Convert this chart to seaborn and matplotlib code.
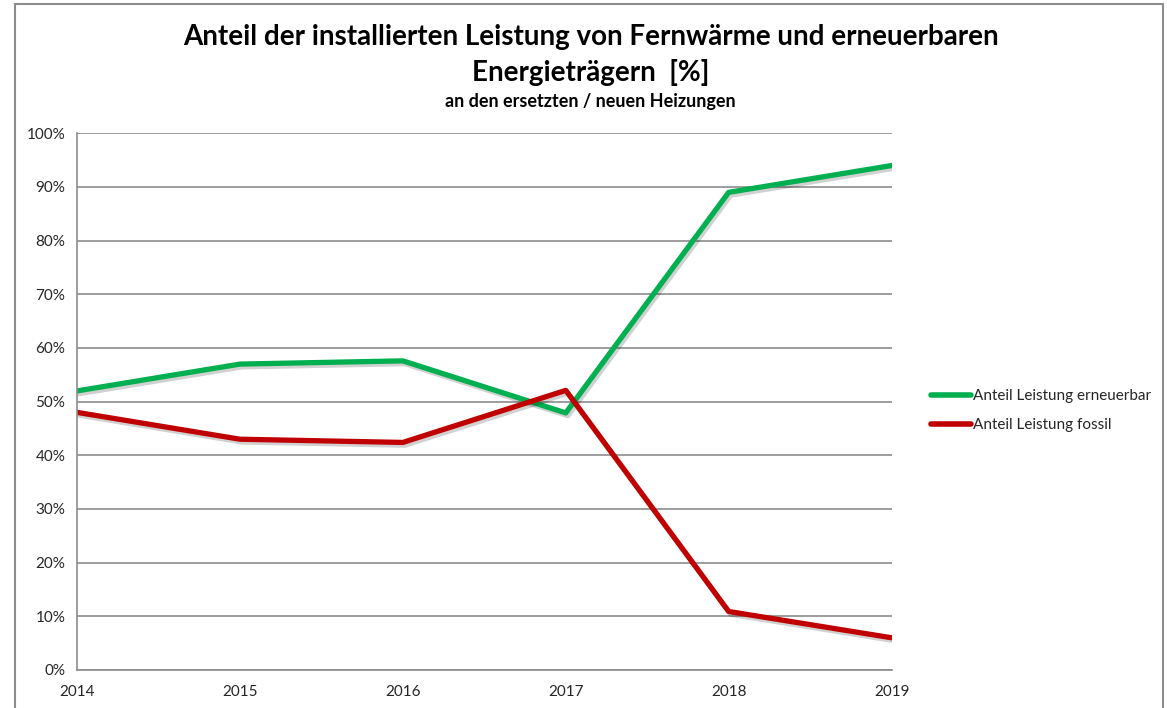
import seaborn as sns
import pandas as pd
import matplotlib.pyplot as plt
import matplotlib.patheffects as pe
from matplotlib.patches import Rectangle
from matplotlib.ticker import PercentFormatter

years = [2014, 2015, 2016, 2017, 2018, 2019]
erneuerbar = [52.0, 57.0, 57.6, 47.9, 89.0, 94.0]
fossil = [48.0, 43.0, 42.4, 52.1, 10.9, 6.0]
series_names = ["Anteil Leistung erneuerbar", "Anteil Leistung fossil"]
colors = ["#00B050", "#C00000"]

df = pd.DataFrame({
    "Jahr": years * 2,
    "Anteil": erneuerbar + fossil,
    "Serie": [series_names[0]] * len(years) + [series_names[1]] * len(years),
})

sns.set_style("white")
plt.rcParams["font.family"] = ["Lato", "DejaVu Sans"]

fig = plt.figure(figsize=(11.67, 7.08), dpi=100)
ax = fig.add_axes([0.066, 0.0537, 0.698, 0.758])

sns.lineplot(data=df, x="Jahr", y="Anteil", hue="Serie", palette=colors,
             linewidth=3.8, ax=ax, legend=False,
             path_effects=[pe.SimpleLineShadow(offset=(1.5, -2), alpha=0.18, shadow_color="black"),
                           pe.Normal()])

ax.set_xlim(2014, 2019)
ax.set_ylim(0, 100)
ax.set_yticks(range(0, 101, 10))
ax.set_xticks(years)
ax.yaxis.set_major_formatter(PercentFormatter(decimals=0))
ax.grid(axis="y", color="#8c8c8c", linewidth=1.2)
ax.set_axisbelow(True)
ax.set_xlabel("")
ax.set_ylabel("")
for s in ["top", "right"]:
    ax.spines[s].set_visible(False)
for s in ["left", "bottom"]:
    ax.spines[s].set_color("#8c8c8c")
    ax.spines[s].set_linewidth(1.2)
ax.tick_params(axis="both", colors="#8c8c8c", length=5, width=1.2, direction="out",
               labelcolor="#262626", labelsize=11)
ax.tick_params(axis="x", pad=6)

# legend
handles = [plt.Line2D([0], [0], color=c, linewidth=4, solid_capstyle="round") for c in colors]
fig.legend(handles, series_names, loc="center left", bbox_to_anchor=(0.786, 0.42),
           frameon=False, fontsize=11, handlelength=2.6, handletextpad=0.15,
           labelspacing=1.0)

fig.text(0.506, 0.948, "Anteil der installierten Leistung von Fernwärme und erneuerbaren",
         ha="center", va="center", fontsize=20, fontweight="bold", color="black")
fig.text(0.506, 0.897, "Energieträgern  [%]", ha="center", va="center",
         fontsize=20, fontweight="bold", color="black")
fig.text(0.506, 0.856, "an den ersetzten / neuen Heizungen", ha="center", va="center",
         fontsize=13, fontweight="bold", color="black")

fig.patches.append(Rectangle((15 / 1167, -0.05), 1148 / 1167, 1.044, transform=fig.transFigure,
                             fill=False, edgecolor="#8c8c8c", linewidth=1.5))

fig.savefig("out.png", dpi=100)
